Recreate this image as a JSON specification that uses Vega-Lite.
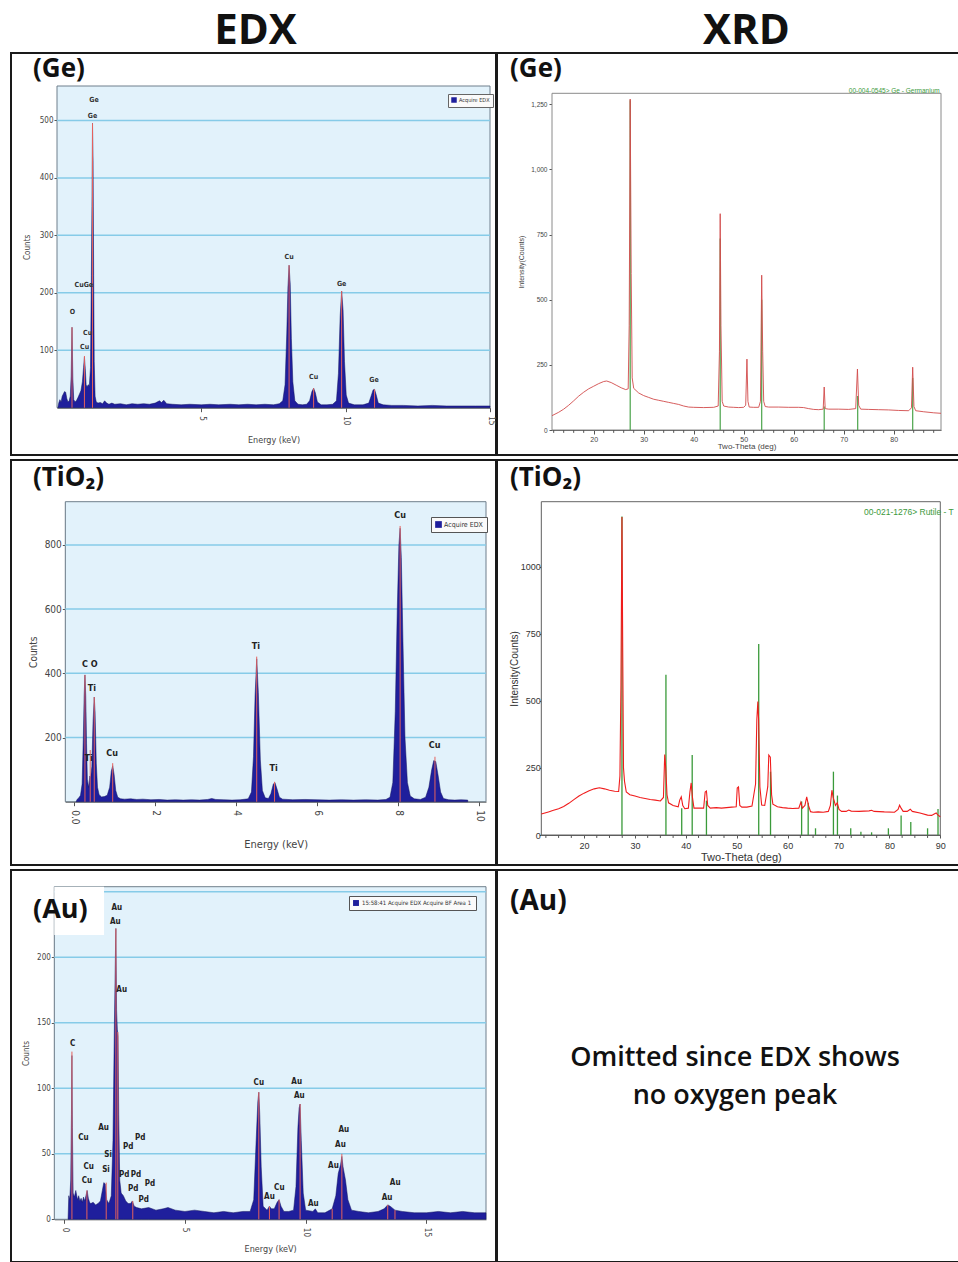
{
  "$schema": "https://vega.github.io/schema/vega-lite/v6.json",
  "padding": {"left": 10, "top": 10, "right": 0, "bottom": 0},
  "background": "white",
  "config": {
    "aria": false,
    "view": {"stroke": "#1a1a1a", "strokeWidth": 2, "fill": "white"},
    "axis": {"grid": false, "domainColor": "#555", "tickColor": "#555", "labelColor": "#444", "titleColor": "#444", "titleFontWeight": "normal", "labelFont": "DejaVu Sans Condensed", "titleFont": "DejaVu Sans Condensed", "labelFlush": false},
    "title": {"font": "Open Sans", "fontWeight": "bold", "color": "#111"},
    "text": {"font": "DejaVu Sans Condensed"}
  },
  "datasets": {
    "geEdx": [{"e":0.03,"c":0},{"e":0.06,"c":8},{"e":0.1,"c":14},{"e":0.14,"c":10},{"e":0.18,"c":20},{"e":0.22,"c":24},{"e":0.26,"c":28},{"e":0.3,"c":27},{"e":0.34,"c":16},{"e":0.38,"c":10},{"e":0.42,"c":12},{"e":0.46,"c":20},{"e":0.49,"c":55},{"e":0.52,"c":140},{"e":0.55,"c":50},{"e":0.58,"c":14},{"e":0.63,"c":10},{"e":0.68,"c":13},{"e":0.73,"c":18},{"e":0.78,"c":24},{"e":0.83,"c":30},{"e":0.88,"c":45},{"e":0.92,"c":70},{"e":0.95,"c":88},{"e":0.98,"c":68},{"e":1.01,"c":40},{"e":1.04,"c":36},{"e":1.08,"c":40},{"e":1.12,"c":38},{"e":1.16,"c":70},{"e":1.19,"c":230},{"e":1.21,"c":350},{"e":1.23,"c":495},{"e":1.25,"c":430},{"e":1.27,"c":230},{"e":1.29,"c":80},{"e":1.32,"c":20},{"e":1.36,"c":10},{"e":1.42,"c":8},{"e":1.5,"c":9},{"e":1.58,"c":7},{"e":1.65,"c":12},{"e":1.72,"c":8},{"e":1.8,"c":6},{"e":1.9,"c":8},{"e":2.0,"c":6},{"e":2.2,"c":7},{"e":2.4,"c":5},{"e":2.6,"c":7},{"e":2.8,"c":6},{"e":3.0,"c":7},{"e":3.2,"c":6},{"e":3.4,"c":8},{"e":3.55,"c":12},{"e":3.62,"c":9},{"e":3.7,"c":13},{"e":3.8,"c":7},{"e":4.0,"c":6},{"e":4.3,"c":5},{"e":4.6,"c":6},{"e":5.0,"c":5},{"e":5.3,"c":6},{"e":5.6,"c":5},{"e":6.0,"c":6},{"e":6.3,"c":5},{"e":6.6,"c":6},{"e":6.9,"c":5},{"e":7.2,"c":6},{"e":7.5,"c":5},{"e":7.7,"c":7},{"e":7.82,"c":12},{"e":7.9,"c":40},{"e":7.96,"c":130},{"e":8.0,"c":210},{"e":8.04,"c":248},{"e":8.08,"c":215},{"e":8.12,"c":120},{"e":8.17,"c":45},{"e":8.24,"c":12},{"e":8.35,"c":6},{"e":8.5,"c":5},{"e":8.65,"c":6},{"e":8.75,"c":12},{"e":8.83,"c":28},{"e":8.89,"c":34},{"e":8.95,"c":26},{"e":9.02,"c":10},{"e":9.15,"c":5},{"e":9.35,"c":5},{"e":9.55,"c":6},{"e":9.68,"c":12},{"e":9.75,"c":60},{"e":9.81,"c":160},{"e":9.86,"c":203},{"e":9.91,"c":170},{"e":9.96,"c":80},{"e":10.02,"c":22},{"e":10.1,"c":8},{"e":10.3,"c":5},{"e":10.6,"c":5},{"e":10.8,"c":8},{"e":10.88,"c":20},{"e":10.95,"c":31},{"e":11.0,"c":32},{"e":11.06,"c":22},{"e":11.13,"c":8},{"e":11.3,"c":5},{"e":11.6,"c":4},{"e":12.0,"c":4},{"e":12.5,"c":3},{"e":13.0,"c":4},{"e":13.5,"c":3},{"e":14.0,"c":3},{"e":14.5,"c":3},{"e":15.0,"c":3}],
    "geEdxPk": [{"e":0.52,"c":140},{"e":0.95,"c":90},{"e":1.23,"c":495},{"e":8.04,"c":248},{"e":8.89,"c":34},{"e":9.86,"c":203},{"e":11.0,"c":32}],
    "geEdxLab": [{"e":0.53,"c":167,"lab":"O"},{"e":0.955,"c":106,"lab":"Cu"},{"e":1.06,"c":130,"lab":"Cu"},{"e":0.93,"c":213,"lab":"CuGe"},{"e":1.28,"c":535,"lab":"Ge"},{"e":1.23,"c":508,"lab":"Ge"},{"e":8.04,"c":263,"lab":"Cu"},{"e":8.89,"c":54,"lab":"Cu"},{"e":9.86,"c":216,"lab":"Ge"},{"e":10.98,"c":48,"lab":"Ge"}],
    "tiEdx": [{"e":0.05,"c":0},{"e":0.08,"c":8},{"e":0.12,"c":12},{"e":0.16,"c":20},{"e":0.2,"c":55},{"e":0.23,"c":200},{"e":0.25,"c":330},{"e":0.27,"c":395},{"e":0.29,"c":330},{"e":0.31,"c":180},{"e":0.33,"c":70},{"e":0.36,"c":45},{"e":0.39,"c":80},{"e":0.41,"c":75},{"e":0.44,"c":110},{"e":0.47,"c":250},{"e":0.5,"c":326},{"e":0.52,"c":280},{"e":0.55,"c":120},{"e":0.58,"c":45},{"e":0.62,"c":22},{"e":0.68,"c":15},{"e":0.75,"c":16},{"e":0.82,"c":20},{"e":0.88,"c":45},{"e":0.92,"c":95},{"e":0.955,"c":112},{"e":0.99,"c":85},{"e":1.03,"c":35},{"e":1.08,"c":14},{"e":1.15,"c":9},{"e":1.25,"c":8},{"e":1.4,"c":9},{"e":1.55,"c":7},{"e":1.7,"c":8},{"e":1.9,"c":6},{"e":2.1,"c":7},{"e":2.3,"c":5},{"e":2.5,"c":6},{"e":2.7,"c":5},{"e":2.9,"c":6},{"e":3.1,"c":5},{"e":3.3,"c":7},{"e":3.4,"c":10},{"e":3.5,"c":7},{"e":3.7,"c":6},{"e":3.9,"c":5},{"e":4.1,"c":6},{"e":4.3,"c":9},{"e":4.38,"c":30},{"e":4.43,"c":140},{"e":4.47,"c":330},{"e":4.51,"c":445},{"e":4.55,"c":340},{"e":4.6,"c":130},{"e":4.65,"c":35},{"e":4.72,"c":12},{"e":4.8,"c":10},{"e":4.86,"c":25},{"e":4.92,"c":55},{"e":4.96,"c":60},{"e":5.01,"c":40},{"e":5.07,"c":14},{"e":5.15,"c":8},{"e":5.4,"c":6},{"e":5.7,"c":7},{"e":6.0,"c":6},{"e":6.3,"c":5},{"e":6.6,"c":6},{"e":6.9,"c":5},{"e":7.2,"c":6},{"e":7.5,"c":5},{"e":7.7,"c":7},{"e":7.8,"c":14},{"e":7.87,"c":60},{"e":7.93,"c":280},{"e":7.98,"c":600},{"e":8.02,"c":800},{"e":8.05,"c":852},{"e":8.08,"c":760},{"e":8.12,"c":500},{"e":8.17,"c":200},{"e":8.23,"c":60},{"e":8.3,"c":18},{"e":8.4,"c":9},{"e":8.55,"c":7},{"e":8.68,"c":14},{"e":8.76,"c":45},{"e":8.83,"c":100},{"e":8.88,"c":128},{"e":8.93,"c":125},{"e":8.99,"c":80},{"e":9.05,"c":30},{"e":9.12,"c":10},{"e":9.25,"c":6},{"e":9.4,"c":5},{"e":9.55,"c":6},{"e":9.72,"c":5}],
    "tiEdxPk": [{"e":0.27,"c":395},{"e":0.4,"c":161},{"e":0.5,"c":326},{"e":0.955,"c":120},{"e":4.51,"c":452},{"e":4.95,"c":62},{"e":8.05,"c":859},{"e":8.91,"c":140}],
    "tiEdxLab": [{"e":0.27,"c":429,"lab":"C"},{"e":0.5,"c":429,"lab":"O"},{"e":0.44,"c":355,"lab":"Ti"},{"e":0.36,"c":135,"lab":"Ti"},{"e":0.94,"c":151,"lab":"Cu"},{"e":4.49,"c":485,"lab":"Ti"},{"e":4.93,"c":104,"lab":"Ti"},{"e":8.05,"c":893,"lab":"Cu"},{"e":8.9,"c":177,"lab":"Cu"}],
    "auEdx": [{"e":0.16,"c":0},{"e":0.19,"c":18},{"e":0.23,"c":15},{"e":0.27,"c":30},{"e":0.3,"c":80},{"e":0.32,"c":125},{"e":0.34,"c":70},{"e":0.37,"c":20},{"e":0.42,"c":17},{"e":0.48,"c":22},{"e":0.55,"c":15},{"e":0.6,"c":18},{"e":0.65,"c":14},{"e":0.7,"c":16},{"e":0.75,"c":13},{"e":0.8,"c":17},{"e":0.85,"c":14},{"e":0.9,"c":18},{"e":0.95,"c":22},{"e":1.0,"c":16},{"e":1.05,"c":13},{"e":1.1,"c":12},{"e":1.2,"c":13},{"e":1.3,"c":11},{"e":1.4,"c":12},{"e":1.5,"c":14},{"e":1.58,"c":22},{"e":1.64,"c":28},{"e":1.7,"c":27},{"e":1.76,"c":15},{"e":1.85,"c":12},{"e":1.95,"c":18},{"e":2.02,"c":60},{"e":2.08,"c":150},{"e":2.12,"c":200},{"e":2.14,"c":222},{"e":2.17,"c":160},{"e":2.2,"c":145},{"e":2.23,"c":140},{"e":2.26,"c":80},{"e":2.3,"c":30},{"e":2.36,"c":20},{"e":2.45,"c":18},{"e":2.55,"c":14},{"e":2.65,"c":12},{"e":2.75,"c":12},{"e":2.82,"c":14},{"e":2.9,"c":10},{"e":3.0,"c":9},{"e":3.2,"c":8},{"e":3.5,"c":9},{"e":3.8,"c":7},{"e":4.1,"c":8},{"e":4.3,"c":9},{"e":4.6,"c":7},{"e":5.0,"c":6},{"e":5.4,"c":7},{"e":5.8,"c":6},{"e":6.2,"c":5},{"e":6.6,"c":6},{"e":7.0,"c":5},{"e":7.4,"c":6},{"e":7.7,"c":6},{"e":7.85,"c":15},{"e":7.95,"c":60},{"e":8.02,"c":90},{"e":8.06,"c":97},{"e":8.1,"c":80},{"e":8.16,"c":40},{"e":8.24,"c":10},{"e":8.4,"c":7},{"e":8.5,"c":10},{"e":8.58,"c":8},{"e":8.7,"c":8},{"e":8.82,"c":13},{"e":8.9,"c":15},{"e":8.98,"c":10},{"e":9.1,"c":6},{"e":9.3,"c":6},{"e":9.5,"c":7},{"e":9.6,"c":25},{"e":9.68,"c":70},{"e":9.73,"c":85},{"e":9.77,"c":88},{"e":9.82,"c":60},{"e":9.9,"c":20},{"e":10.0,"c":7},{"e":10.3,"c":6},{"e":10.4,"c":8},{"e":10.5,"c":5},{"e":10.8,"c":5},{"e":11.1,"c":8},{"e":11.25,"c":18},{"e":11.35,"c":35},{"e":11.45,"c":42},{"e":11.5,"c":48},{"e":11.55,"c":40},{"e":11.65,"c":30},{"e":11.75,"c":15},{"e":11.9,"c":7},{"e":12.2,"c":6},{"e":12.6,"c":5},{"e":13.0,"c":6},{"e":13.25,"c":8},{"e":13.4,"c":11},{"e":13.5,"c":10},{"e":13.7,"c":7},{"e":14.0,"c":6},{"e":14.5,"c":5},{"e":15.0,"c":5},{"e":15.5,"c":6},{"e":16.0,"c":5},{"e":16.5,"c":6},{"e":17.0,"c":5},{"e":17.47,"c":5}],
    "auEdxPk": [{"e":0.32,"c":128},{"e":0.94,"c":22},{"e":1.74,"c":28},{"e":2.14,"c":222},{"e":2.22,"c":143},{"e":2.84,"c":14},{"e":8.06,"c":97},{"e":8.5,"c":10},{"e":8.9,"c":15},{"e":9.77,"c":88},{"e":11.1,"c":8},{"e":11.5,"c":50},{"e":13.4,"c":11},{"e":13.7,"c":7}],
    "auEdxLab": [{"e":2.18,"c":238,"lab":"Au"},{"e":2.12,"c":227,"lab":"Au"},{"e":2.38,"c":175,"lab":"Au"},{"e":0.35,"c":134,"lab":"C"},{"e":0.8,"c":62,"lab":"Cu"},{"e":1.63,"c":70,"lab":"Au"},{"e":2.65,"c":55,"lab":"Pd"},{"e":3.15,"c":62,"lab":"Pd"},{"e":1.82,"c":49,"lab":"Si"},{"e":1.73,"c":38,"lab":"Si"},{"e":1.01,"c":40,"lab":"Cu"},{"e":0.94,"c":29,"lab":"Cu"},{"e":2.49,"c":34,"lab":"Pd"},{"e":2.97,"c":34,"lab":"Pd"},{"e":2.86,"c":23,"lab":"Pd"},{"e":3.55,"c":27,"lab":"Pd"},{"e":3.29,"c":15,"lab":"Pd"},{"e":8.06,"c":104,"lab":"Cu"},{"e":9.63,"c":105,"lab":"Au"},{"e":9.74,"c":94,"lab":"Au"},{"e":8.5,"c":17,"lab":"Au"},{"e":8.91,"c":24,"lab":"Cu"},{"e":10.32,"c":12,"lab":"Au"},{"e":11.58,"c":68,"lab":"Au"},{"e":11.44,"c":57,"lab":"Au"},{"e":11.15,"c":41,"lab":"Au"},{"e":13.71,"c":28,"lab":"Au"},{"e":13.37,"c":16,"lab":"Au"}],
    "geXrd": [{"t":11.66,"i":55},{"t":13,"i":68},{"t":14,"i":80},{"t":15,"i":95},{"t":16,"i":112},{"t":17,"i":130},{"t":18,"i":145},{"t":19,"i":158},{"t":20,"i":168},{"t":21,"i":178},{"t":22,"i":186},{"t":22.6,"i":188},{"t":23.5,"i":182},{"t":24.5,"i":172},{"t":25.5,"i":162},{"t":26.4,"i":155},{"t":26.9,"i":158},{"t":27.1,"i":400},{"t":27.3,"i":1270},{"t":27.5,"i":600},{"t":27.7,"i":200},{"t":28,"i":160},{"t":29,"i":142},{"t":30,"i":132},{"t":31,"i":125},{"t":32,"i":118},{"t":33,"i":114},{"t":34,"i":110},{"t":35,"i":106},{"t":36,"i":102},{"t":37,"i":98},{"t":38,"i":92},{"t":39,"i":88},{"t":40,"i":87},{"t":42,"i":86},{"t":44,"i":87},{"t":44.9,"i":92},{"t":45.15,"i":300},{"t":45.3,"i":830},{"t":45.45,"i":400},{"t":45.7,"i":110},{"t":46,"i":92},{"t":47,"i":88},{"t":48,"i":87},{"t":49,"i":86},{"t":50,"i":87},{"t":50.4,"i":95},{"t":50.65,"i":272},{"t":50.85,"i":110},{"t":51.1,"i":88},{"t":52,"i":87},{"t":53,"i":87},{"t":53.35,"i":110},{"t":53.6,"i":594},{"t":53.8,"i":300},{"t":54.0,"i":110},{"t":54.3,"i":90},{"t":55,"i":88},{"t":57,"i":88},{"t":59,"i":87},{"t":61,"i":87},{"t":62,"i":86},{"t":63,"i":82},{"t":64,"i":79},{"t":65,"i":78},{"t":65.9,"i":80},{"t":66.1,"i":165},{"t":66.3,"i":82},{"t":67,"i":80},{"t":69,"i":80},{"t":71,"i":79},{"t":72.4,"i":82},{"t":72.75,"i":234},{"t":73.0,"i":95},{"t":73.4,"i":80},{"t":75,"i":79},{"t":77,"i":78},{"t":79,"i":77},{"t":81,"i":75},{"t":83,"i":74},{"t":83.55,"i":85},{"t":83.8,"i":241},{"t":84.05,"i":90},{"t":84.4,"i":74},{"t":86,"i":70},{"t":88,"i":66},{"t":89.46,"i":64}],
    "geXrdRef": [{"t":27.3,"i":1265},{"t":45.3,"i":735},{"t":53.6,"i":500},{"t":66.1,"i":90},{"t":72.8,"i":130},{"t":83.8,"i":200}],
    "geXrdMinor": [{"t":12},{"t":14},{"t":16},{"t":18},{"t":22},{"t":24},{"t":26},{"t":28},{"t":32},{"t":34},{"t":36},{"t":38},{"t":42},{"t":44},{"t":46},{"t":48},{"t":52},{"t":54},{"t":56},{"t":58},{"t":62},{"t":64},{"t":66},{"t":68},{"t":72},{"t":74},{"t":76},{"t":78},{"t":82},{"t":84},{"t":86},{"t":88}],
    "tiXrd": [{"t":11.6,"i":78},{"t":13,"i":86},{"t":14,"i":92},{"t":15,"i":98},{"t":16,"i":106},{"t":17,"i":118},{"t":18,"i":132},{"t":19,"i":145},{"t":20,"i":156},{"t":21,"i":165},{"t":22,"i":172},{"t":23,"i":176},{"t":24,"i":172},{"t":25,"i":167},{"t":26,"i":163},{"t":26.8,"i":162},{"t":27.05,"i":220},{"t":27.25,"i":560},{"t":27.45,"i":1185},{"t":27.6,"i":680},{"t":27.75,"i":250},{"t":27.95,"i":200},{"t":28.3,"i":160},{"t":29,"i":150},{"t":30,"i":145},{"t":31,"i":140},{"t":32,"i":136},{"t":33,"i":132},{"t":34,"i":130},{"t":35,"i":127},{"t":35.6,"i":140},{"t":35.85,"i":300},{"t":36.05,"i":250},{"t":36.3,"i":150},{"t":36.6,"i":120},{"t":37.5,"i":110},{"t":38.5,"i":105},{"t":38.8,"i":130},{"t":39.1,"i":142},{"t":39.4,"i":110},{"t":39.8,"i":98},{"t":40.5,"i":100},{"t":40.8,"i":160},{"t":41.05,"i":194},{"t":41.3,"i":140},{"t":41.6,"i":100},{"t":42.5,"i":100},{"t":43.5,"i":100},{"t":43.8,"i":160},{"t":44.05,"i":164},{"t":44.3,"i":110},{"t":44.8,"i":100},{"t":46,"i":102},{"t":47,"i":100},{"t":48,"i":102},{"t":49,"i":104},{"t":49.9,"i":105},{"t":50.1,"i":175},{"t":50.35,"i":179},{"t":50.6,"i":110},{"t":51,"i":104},{"t":52,"i":104},{"t":53,"i":108},{"t":53.7,"i":190},{"t":53.95,"i":430},{"t":54.15,"i":497},{"t":54.3,"i":430},{"t":54.55,"i":180},{"t":54.9,"i":112},{"t":55.5,"i":110},{"t":56.1,"i":180},{"t":56.3,"i":298},{"t":56.6,"i":290},{"t":56.85,"i":150},{"t":57.1,"i":115},{"t":58,"i":105},{"t":59,"i":102},{"t":60,"i":100},{"t":61,"i":99},{"t":62.2,"i":100},{"t":62.6,"i":122},{"t":62.9,"i":100},{"t":63.4,"i":110},{"t":63.75,"i":142},{"t":64.1,"i":110},{"t":64.5,"i":87},{"t":65,"i":85},{"t":66,"i":86},{"t":67,"i":85},{"t":68,"i":88},{"t":68.4,"i":110},{"t":68.7,"i":167},{"t":68.95,"i":140},{"t":69.4,"i":110},{"t":69.75,"i":120},{"t":70.1,"i":95},{"t":70.6,"i":88},{"t":71.5,"i":88},{"t":72,"i":93},{"t":72.5,"i":89},{"t":74,"i":88},{"t":76,"i":90},{"t":76.5,"i":92},{"t":77,"i":88},{"t":79,"i":86},{"t":81,"i":85},{"t":81.7,"i":95},{"t":82.0,"i":111},{"t":82.3,"i":100},{"t":82.7,"i":88},{"t":83.5,"i":88},{"t":84.1,"i":96},{"t":84.5,"i":88},{"t":86,"i":82},{"t":87.5,"i":74},{"t":88.3,"i":73},{"t":88.8,"i":78},{"t":89.2,"i":82},{"t":89.5,"i":75},{"t":90,"i":68}],
    "tiXrdRef": [{"t":27.45,"i":1187},{"t":36.09,"i":597},{"t":39.19,"i":100},{"t":41.25,"i":298},{"t":44.05,"i":128},{"t":54.32,"i":712},{"t":56.64,"i":236},{"t":62.75,"i":125},{"t":64.04,"i":120},{"t":65.48,"i":25},{"t":69.0,"i":236},{"t":69.79,"i":147},{"t":72.4,"i":25},{"t":74.4,"i":12},{"t":76.5,"i":10},{"t":79.8,"i":25},{"t":82.3,"i":73},{"t":84.2,"i":48},{"t":87.5,"i":25},{"t":89.55,"i":97}],
    "tiXrdMinor": [{"t":12.5},{"t":15},{"t":17.5},{"t":22.5},{"t":25},{"t":27.5},{"t":32.5},{"t":35},{"t":37.5},{"t":42.5},{"t":45},{"t":47.5},{"t":52.5},{"t":55},{"t":57.5},{"t":62.5},{"t":65},{"t":67.5},{"t":72.5},{"t":75},{"t":77.5},{"t":82.5},{"t":85},{"t":87.5}]
  },
  "spacing": -2,
  "resolve": {"scale": {"x": "independent", "y": "independent"}},
  "hconcat": [
    {
      "title": {"text": "EDX", "fontSize": 42, "anchor": "middle", "dx": 2, "offset": -1},
      "spacing": 3,
      "resolve": {"scale": {"x": "independent", "y": "independent", "fill": "independent"}, "legend": {"fill": "independent"}},
      "vconcat": [
        {
          "width": 485, "height": 402,
          "title": {"text": "(Ge)", "anchor": "start", "frame": "group", "dx": 22, "offset": -29, "fontSize": 26},
          "layer": [
            {"data": {"values": [{}]},
             "mark": {"type": "rect", "fill": "#e2f2fb", "stroke": "#6f7f8c", "strokeWidth": 1},
             "encoding": {
               "x": {"datum": 0, "type": "quantitative", "scale": {"domain": [0, 15], "range": [46, 479], "nice": false, "zero": false},
                     "axis": {"values": [5, 10, 15], "offset": -47.3, "title": "Energy (keV)", "labelAngle": 90, "labelFontSize": 8, "titleFontSize": 9, "tickSize": 4, "labelPadding": 4, "titlePadding": 11}},
               "x2": {"datum": 15},
               "y": {"datum": 0, "type": "quantitative", "scale": {"domain": [0, 560], "range": [354.7, 33], "nice": false, "zero": false},
                     "axis": {"values": [100, 200, 300, 400, 500], "offset": -46, "title": "Counts", "labelFontSize": 8, "titleFontSize": 8, "tickSize": 3, "labelPadding": 1, "titlePadding": 8}},
               "y2": {"datum": 560}}},
            {"data": {"values": [{"v": 100}, {"v": 200}, {"v": 300}, {"v": 400}, {"v": 500}]},
             "mark": {"type": "rule", "color": "#86cbe8", "strokeWidth": 1.5},
             "encoding": {"y": {"field": "v", "type": "quantitative"}, "x": {"datum": 0, "type": "quantitative"}, "x2": {"datum": 15}}},
            {"data": {"name": "geEdx"},
             "mark": {"type": "area", "stroke": "#12125e", "strokeWidth": 0.5},
             "encoding": {"x": {"field": "e", "type": "quantitative"}, "y": {"field": "c", "type": "quantitative", "stack": null},
               "fill": {"datum": "Acquire EDX", "type": "nominal", "scale": {"range": ["#1f1f9c"]},
                 "legend": {"orient": "none", "legendX": 437, "legendY": 41, "title": null, "symbolType": "square", "symbolSize": 30, "labelFontSize": 5.5, "labelOffset": 2, "labelFont": "DejaVu Sans Condensed", "labelColor": "#333", "strokeColor": "#666", "fillColor": "#fafafa", "padding": 3, "symbolStrokeWidth": 0}}}},
            {"data": {"name": "geEdxPk"},
             "mark": {"type": "rule", "color": "#e5615c", "strokeWidth": 1},
             "encoding": {"x": {"field": "e", "type": "quantitative"}, "y": {"field": "c", "type": "quantitative"}, "y2": {"datum": 0}}},
            {"data": {"name": "geEdxLab"},
             "mark": {"type": "text", "fontSize": 7, "fontWeight": "bold", "color": "#333"},
             "encoding": {"x": {"field": "e", "type": "quantitative"}, "y": {"field": "c", "type": "quantitative"}, "text": {"field": "lab", "type": "nominal"}}}
          ]
        },
        {
          "width": 485, "height": 405,
          "title": {"text": "(TiO₂)", "anchor": "start", "frame": "group", "dx": 22, "offset": -31, "fontSize": 26},
          "layer": [
            {"data": {"values": [{}]},
             "mark": {"type": "rect", "fill": "#e2f2fb", "stroke": "#6f7f8c", "strokeWidth": 1},
             "encoding": {
               "x": {"datum": -0.215, "type": "quantitative", "scale": {"domain": [-0.215, 10.17], "range": [54.3, 475], "nice": false, "zero": false},
                     "axis": {"values": [0, 2, 4, 6, 8, 10], "labelExpr": "datum.value == 0 ? '0.0' : datum.label", "offset": -63.3, "title": "Energy (keV)", "labelAngle": 90, "labelFontSize": 10, "titleFontSize": 11, "tickSize": 4, "labelPadding": 4, "titlePadding": 14}},
               "x2": {"datum": 10.17},
               "y": {"datum": 0, "type": "quantitative", "scale": {"domain": [0, 934.6], "range": [341.7, 41.7], "nice": false, "zero": false},
                     "axis": {"values": [200, 400, 600, 800], "offset": -54.3, "title": "Counts", "labelFontSize": 10, "titleFontSize": 10, "tickSize": 3, "labelPadding": 1, "titlePadding": 6}},
               "y2": {"datum": 934.6}}},
            {"data": {"values": [{"v": 200}, {"v": 400}, {"v": 600}, {"v": 800}]},
             "mark": {"type": "rule", "color": "#86cbe8", "strokeWidth": 1.5},
             "encoding": {"y": {"field": "v", "type": "quantitative"}, "x": {"datum": -0.215, "type": "quantitative"}, "x2": {"datum": 10.17}}},
            {"data": {"name": "tiEdx"},
             "mark": {"type": "area", "stroke": "#12125e", "strokeWidth": 0.5},
             "encoding": {"x": {"field": "e", "type": "quantitative"}, "y": {"field": "c", "type": "quantitative", "stack": null},
               "fill": {"datum": "Acquire EDX", "type": "nominal", "scale": {"range": ["#1f1f9c"]},
                 "legend": {"orient": "none", "legendX": 420, "legendY": 57, "title": null, "symbolType": "square", "symbolSize": 45, "labelFontSize": 7, "labelOffset": 2, "labelFont": "DejaVu Sans Condensed", "labelColor": "#333", "strokeColor": "#555", "fillColor": "#fafafa", "padding": 4, "symbolStrokeWidth": 0}}}},
            {"data": {"name": "tiEdxPk"},
             "mark": {"type": "rule", "color": "#e5615c", "strokeWidth": 1},
             "encoding": {"x": {"field": "e", "type": "quantitative"}, "y": {"field": "c", "type": "quantitative"}, "y2": {"datum": 0}}},
            {"data": {"name": "tiEdxLab"},
             "mark": {"type": "text", "fontSize": 9, "fontWeight": "bold", "color": "#222"},
             "encoding": {"x": {"field": "e", "type": "quantitative"}, "y": {"field": "c", "type": "quantitative"}, "text": {"field": "lab", "type": "nominal"}}}
          ]
        },
        {
          "width": 485, "height": 392,
          "title": {"text": "(Au)", "anchor": "start", "frame": "group", "dx": 22, "offset": -54, "fontSize": 27},
          "layer": [
            {"data": {"values": [{}]},
             "mark": {"type": "rect", "fill": "#e2f2fb", "stroke": "#6f7f8c", "strokeWidth": 1},
             "encoding": {
               "x": {"datum": -0.41, "type": "quantitative", "scale": {"domain": [-0.41, 17.47], "range": [43.3, 475], "nice": false, "zero": false},
                     "axis": {"values": [0, 5, 10, 15], "offset": -42.7, "title": "Energy (keV)", "labelAngle": 90, "labelFontSize": 8, "titleFontSize": 9, "tickSize": 4, "labelPadding": 4, "titlePadding": 8}},
               "x2": {"datum": 17.47},
               "y": {"datum": 0, "type": "quantitative", "scale": {"domain": [0, 253.9], "range": [349.3, 16.7], "nice": false, "zero": false},
                     "axis": {"values": [0, 50, 100, 150, 200], "offset": -43.3, "title": "Counts", "labelFontSize": 8, "titleFontSize": 8, "tickSize": 3, "labelPadding": 1, "titlePadding": 6}},
               "y2": {"datum": 253.9}}},
            {"data": {"values": [{"v": 50}, {"v": 100}, {"v": 150}, {"v": 200}, {"v": 250}]},
             "mark": {"type": "rule", "color": "#86cbe8", "strokeWidth": 1.5},
             "encoding": {"y": {"field": "v", "type": "quantitative"}, "x": {"datum": -0.41, "type": "quantitative"}, "x2": {"datum": 17.47}}},
            {"data": {"values": [{}]},
             "mark": {"type": "rect", "fill": "white"},
             "encoding": {"x": {"datum": -0.41, "type": "quantitative"}, "x2": {"datum": 1.65}, "y": {"datum": 217, "type": "quantitative"}, "y2": {"datum": 253.9}}},
            {"data": {"name": "auEdx"},
             "mark": {"type": "area", "stroke": "#12125e", "strokeWidth": 0.5},
             "encoding": {"x": {"field": "e", "type": "quantitative"}, "y": {"field": "c", "type": "quantitative", "stack": null},
               "fill": {"datum": "15:58:41 Acquire EDX Acquire BF Area 1", "type": "nominal", "scale": {"range": ["#1f1f9c"]},
                 "legend": {"orient": "none", "legendX": 338, "legendY": 26, "title": null, "symbolType": "square", "symbolSize": 35, "labelFontSize": 6, "labelOffset": 3, "labelFont": "DejaVu Sans Condensed", "labelColor": "#333", "strokeColor": "#555", "fillColor": "#fafafa", "padding": 4, "symbolStrokeWidth": 0}}}},
            {"data": {"name": "auEdxPk"},
             "mark": {"type": "rule", "color": "#e5615c", "strokeWidth": 1},
             "encoding": {"x": {"field": "e", "type": "quantitative"}, "y": {"field": "c", "type": "quantitative"}, "y2": {"datum": 0}}},
            {"data": {"name": "auEdxLab"},
             "mark": {"type": "text", "fontSize": 8, "fontWeight": "bold", "color": "#222"},
             "encoding": {"x": {"field": "e", "type": "quantitative"}, "y": {"field": "c", "type": "quantitative"}, "text": {"field": "lab", "type": "nominal"}}}
          ]
        }
      ]
    },
    {
      "title": {"text": "XRD", "fontSize": 42, "anchor": "middle", "dx": 18, "offset": -1},
      "spacing": 3,
      "resolve": {"scale": {"x": "independent", "y": "independent"}},
      "vconcat": [
        {
          "width": 463, "height": 402,
          "title": {"text": "(Ge)", "anchor": "start", "frame": "group", "dx": 13, "offset": -29, "fontSize": 26},
          "layer": [
            {"data": {"values": [{}]},
             "mark": {"type": "rect", "fill": "white", "stroke": "#8a8a8a", "strokeWidth": 1},
             "encoding": {
               "x": {"datum": 11.66, "type": "quantitative", "scale": {"domain": [11.66, 89.46], "range": [55, 444], "nice": false, "zero": false},
                     "axis": {"values": [20, 30, 40, 50, 60, 70, 80], "offset": -25, "title": "Two-Theta (deg)", "labelFontSize": 7, "titleFontSize": 8, "tickSize": 4, "labelPadding": 1, "titlePadding": 0, "labelFont": "Liberation Sans", "titleFont": "Liberation Sans"}},
               "x2": {"datum": 89.46},
               "y": {"datum": 0, "type": "quantitative", "scale": {"domain": [0, 1292], "range": [377, 40.3], "nice": false, "zero": false},
                     "axis": {"values": [0, 250, 500, 750, 1000, 1250], "format": ",.0f", "offset": -55, "title": "Intensity(Counts)", "labelFontSize": 6.5, "titleFontSize": 7, "tickSize": 3, "labelPadding": 2, "titlePadding": 6, "labelFont": "Liberation Sans", "titleFont": "Liberation Sans"}},
               "y2": {"datum": 1292}}},
            {"data": {"name": "geXrdMinor"},
             "mark": {"type": "rule", "color": "#555", "strokeWidth": 1},
             "encoding": {"x": {"field": "t", "type": "quantitative"}, "y": {"datum": 0, "type": "quantitative"}, "y2": {"datum": -11}}},
            {"data": {"name": "geXrdRef"},
             "mark": {"type": "rule", "color": "#4aa34a", "strokeWidth": 1.2},
             "encoding": {"x": {"field": "t", "type": "quantitative"}, "y": {"field": "i", "type": "quantitative"}, "y2": {"datum": 0}}},
            {"data": {"name": "geXrd"},
             "mark": {"type": "line", "color": "#d24b4b", "strokeWidth": 1, "opacity": 0.9},
             "encoding": {"x": {"field": "t", "type": "quantitative"}, "y": {"field": "i", "type": "quantitative"}}},
            {"data": {"values": [{}]},
             "mark": {"type": "text", "align": "right", "baseline": "middle", "fontSize": 6.5, "font": "Liberation Sans", "color": "#3c9a3c"},
             "encoding": {"x": {"datum": 89.2, "type": "quantitative"}, "y": {"datum": 1300, "type": "quantitative"}, "text": {"value": "00-004-0545> Ge - Germanium"}}}
          ]
        },
        {
          "width": 463, "height": 405,
          "title": {"text": "(TiO₂)", "anchor": "start", "frame": "group", "dx": 13, "offset": -31, "fontSize": 26},
          "layer": [
            {"data": {"values": [{}]},
             "mark": {"type": "rect", "fill": "white", "stroke": "#666", "strokeWidth": 1},
             "encoding": {
               "x": {"datum": 11.6, "type": "quantitative", "scale": {"domain": [11.6, 90], "range": [44.3, 443.3], "nice": false, "zero": false},
                     "axis": {"values": [20, 30, 40, 50, 60, 70, 80, 90], "offset": -30, "title": "Two-Theta (deg)", "labelFontSize": 9, "titleFontSize": 11, "tickSize": 3, "labelPadding": 3, "titlePadding": 1, "labelFont": "Liberation Sans", "titleFont": "Liberation Sans", "labelColor": "#333", "titleColor": "#333"}},
               "x2": {"datum": 90},
               "y": {"datum": 0, "type": "quantitative", "scale": {"domain": [0, 1242], "range": [375, 41.7], "nice": false, "zero": false},
                     "axis": {"values": [0, 250, 500, 750, 1000], "format": "d", "offset": -44.3, "title": "Intensity(Counts)", "labelFontSize": 9, "titleFontSize": 10, "tickSize": 2, "labelPadding": -1, "titlePadding": 1, "labelFont": "Liberation Sans", "titleFont": "Liberation Sans", "labelColor": "#333", "titleColor": "#333"}},
               "y2": {"datum": 1242}}},
            {"data": {"name": "tiXrdMinor"},
             "mark": {"type": "rule", "color": "#555", "strokeWidth": 1},
             "encoding": {"x": {"field": "t", "type": "quantitative"}, "y": {"datum": 0, "type": "quantitative"}, "y2": {"datum": -11}}},
            {"data": {"name": "tiXrdRef"},
             "mark": {"type": "rule", "color": "#3a9a3a", "strokeWidth": 1.3},
             "encoding": {"x": {"field": "t", "type": "quantitative"}, "y": {"field": "i", "type": "quantitative"}, "y2": {"datum": 0}}},
            {"data": {"name": "tiXrd"},
             "mark": {"type": "line", "color": "#f01c1c", "strokeWidth": 1.1},
             "encoding": {"x": {"field": "t", "type": "quantitative"}, "y": {"field": "i", "type": "quantitative"}}},
            {"data": {"values": [{}]},
             "mark": {"type": "text", "align": "left", "baseline": "middle", "fontSize": 8.5, "font": "Liberation Sans", "color": "#3c9a3c"},
             "encoding": {"x": {"datum": 75.0, "type": "quantitative"}, "y": {"datum": 1205, "type": "quantitative"}, "text": {"value": "00-021-1276> Rutile - T"}}}
          ]
        },
        {
          "width": 463, "height": 392,
          "title": {"text": "(Au)", "anchor": "start", "frame": "group", "dx": 13, "offset": -46, "fontSize": 28},
          "data": {"values": [{"t": "Omitted since EDX shows\nno oxygen peak"}]},
          "mark": {"type": "text", "lineBreak": "\n", "fontSize": 27, "font": "Open Sans", "fontWeight": 600, "lineHeight": 38, "color": "#111", "baseline": "middle"},
          "encoding": {
            "text": {"field": "t", "type": "nominal"},
            "x": {"datum": 0.514, "type": "quantitative", "scale": {"domain": [0, 1], "nice": false, "zero": false}, "axis": null},
            "y": {"datum": 0.52, "type": "quantitative", "scale": {"domain": [0, 1], "nice": false, "zero": false}, "axis": null}
          }
        }
      ]
    }
  ]
}
